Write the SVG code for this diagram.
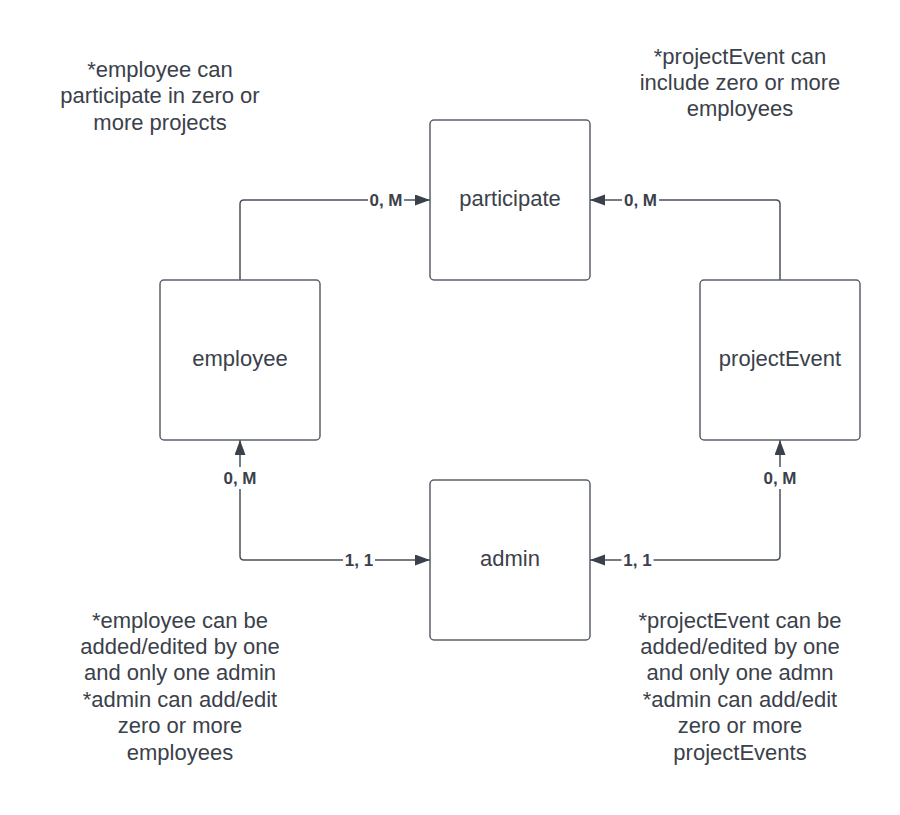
<svg xmlns="http://www.w3.org/2000/svg" width="900" height="815" viewBox="0 0 900 815">
<style>
.box{fill:#ffffff;stroke:#5b626c;stroke-width:1.5}
.lbl{font-family:"Liberation Sans",Arial,sans-serif;font-size:22px;fill:#3a414a;text-anchor:middle}
.note{font-family:"Liberation Sans",Arial,sans-serif;font-size:22px;fill:#3a414a;text-anchor:middle}
.conn{fill:none;stroke:#4b525c;stroke-width:1.5}
.card{font-family:"Liberation Sans",Arial,sans-serif;font-weight:bold;font-size:17px;fill:#3a414a;text-anchor:middle}
.bg{fill:#ffffff}
</style>
<defs>
<marker id="arr" markerUnits="userSpaceOnUse" markerWidth="16" markerHeight="12" refX="15" refY="5.5" orient="auto-start-reverse">
<path d="M0,0 L15,5.5 L0,11 z" fill="#3a414a"/>
</marker>
</defs>
<rect width="900" height="815" fill="#ffffff"/>
<g id="connectors">
<path class="conn" d="M240,280 V204 Q240,200 244,200 H430" marker-end="url(#arr)"/>
<path class="conn" d="M780,280 V204 Q780,200 776,200 H590" marker-end="url(#arr)"/>
<path class="conn" d="M240,440 V556 Q240,560 244,560 H430" marker-start="url(#arr)" marker-end="url(#arr)"/>
<path class="conn" d="M780,440 V556 Q780,560 776,560 H590" marker-start="url(#arr)" marker-end="url(#arr)"/>
<rect class="bg" x="368" y="191" width="36" height="18"/>
<text class="card" x="386" y="206">0, M</text>
<rect class="bg" x="622" y="191" width="37" height="18"/>
<text class="card" x="640.5" y="206">0, M</text>
<rect class="bg" x="221" y="467" width="38" height="22"/>
<text class="card" x="240" y="484">0, M</text>
<rect class="bg" x="761" y="467" width="38" height="22"/>
<text class="card" x="780" y="484">0, M</text>
<rect class="bg" x="343" y="551" width="32" height="18"/>
<text class="card" x="359" y="566">1, 1</text>
<rect class="bg" x="621.5" y="551" width="32" height="18"/>
<text class="card" x="637.5" y="566">1, 1</text>
</g>
<g id="participate">
<rect class="box" x="430" y="120" width="160" height="160" rx="4"/>
<text class="lbl" x="510" y="206">participate</text>
</g>
<g id="employee">
<rect class="box" x="160" y="280" width="160" height="160" rx="4"/>
<text class="lbl" x="240" y="366">employee</text>
</g>
<g id="projectEvent">
<rect class="box" x="700" y="280" width="160" height="160" rx="4"/>
<text class="lbl" x="780" y="366">projectEvent</text>
</g>
<g id="admin">
<rect class="box" x="430" y="480" width="160" height="160" rx="4"/>
<text class="lbl" x="510" y="566">admin</text>
</g>
<g id="note-employee-participate">
<text class="note" x="160" y="77">*employee can</text>
<text class="note" x="160" y="103.4">participate in zero or</text>
<text class="note" x="160" y="129.8">more projects</text>
</g>
<g id="note-projectEvent-participate">
<text class="note" x="740" y="63.5">*projectEvent can</text>
<text class="note" x="740" y="89.9">include zero or more</text>
<text class="note" x="740" y="116.3">employees</text>
</g>
<g id="note-employee-admin">
<text class="note" x="180" y="627.5">*employee can be</text>
<text class="note" x="180" y="653.9">added/edited by one</text>
<text class="note" x="180" y="680.3">and only one admin</text>
<text class="note" x="180" y="706.7">*admin can add/edit</text>
<text class="note" x="180" y="733.1">zero or more</text>
<text class="note" x="180" y="759.5">employees</text>
</g>
<g id="note-projectEvent-admin">
<text class="note" x="740" y="627.5">*projectEvent can be</text>
<text class="note" x="740" y="653.9">added/edited by one</text>
<text class="note" x="740" y="680.3">and only one admn</text>
<text class="note" x="740" y="706.7">*admin can add/edit</text>
<text class="note" x="740" y="733.1">zero or more</text>
<text class="note" x="740" y="759.5">projectEvents</text>
</g>
</svg>
